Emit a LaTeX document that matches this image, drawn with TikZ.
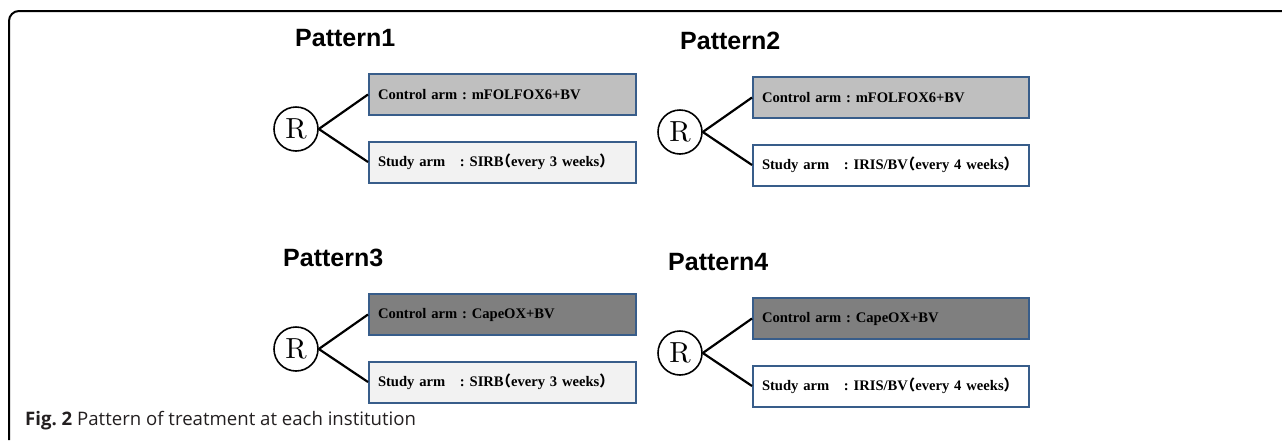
\documentclass[tikz,border=0pt]{standalone}
\usepackage{fontspec}
\setmainfont{Liberation Serif}
\setsansfont{Liberation Sans}
\newfontfamily\capfont{Open Sans}
\newfontfamily\cjk{Noto Sans CJK JP}
\newfontfamily\cjkhalf[RawFeature=+halt]{Noto Sans CJK JP}
\newfontfamily\rfont[Extension=.otf]{lmroman10-regular}
\usepackage{tikz}
\frenchspacing

\definecolor{armline}{RGB}{56,93,138}
\definecolor{ctlA}{RGB}{191,191,191}
\definecolor{ctlB}{RGB}{127,127,127}
\definecolor{stdA}{RGB}{242,242,242}
\definecolor{stdB}{RGB}{255,255,255}
\definecolor{captext}{RGB}{35,31,32}

% study arm regimens
\newcommand{\sirb}{SIRB{\cjkhalf （}every 3 weeks{\cjkhalf ）}}
\newcommand{\iris}{IRIS/BV{\cjkhalf （}every 4 weeks{\cjkhalf ）}}

\begin{document}
\begin{tikzpicture}[x=1pt,y=-1pt,
    rand/.style={draw,circle,line width=1.6,minimum size=44,inner sep=0,
      font=\rfont\fontsize{29}{29}\selectfont},
    armbox/.style={draw=armline,line width=2,minimum height=41,inner xsep=9,
      inner ysep=0,anchor=west,align=left,
      font=\bfseries\fontsize{14.6}{14.6}\selectfont},
    ptitle/.style={anchor=west,inner sep=0,
      font=\sffamily\bfseries\fontsize{25}{25}\selectfont},
    link/.style={line width=2.2}]
  \useasboundingbox (0,0) rectangle (1282,440);
  % frame
  \draw[line width=2,rounded corners=10] (9,440) |- (1282,11);
  % one randomisation per pattern
  \foreach \n/\cx/\cy/\tx/\tw/\cf/\sf/\drug/\study in
      {1/296/129/295/249/ctlA/stdA/mFOLFOX6+BV/\sirb,
       2/680/132/680/258/ctlA/stdB/mFOLFOX6+BV/\iris,
       3/296/349/283/249/ctlB/stdA/CapeOX+BV/\sirb,
       4/680/353/668/258/ctlB/stdB/CapeOX+BV/\iris}{
    \node[ptitle] (t\n) at (\tx,\cy-91) {Pattern\n};
    \node[rand] (r\n) at (\cx,\cy) {R};
    \node[armbox,fill=\cf,text width=\tw pt] (c\n) at (\cx+72,\cy-34.5)
      {\mbox{Control arm : \drug}};
    \node[armbox,fill=\sf,text width=\tw pt] (s\n) at (\cx+72,\cy+33)
      {\mbox{Study arm{\cjk 　}: \study}};
    \draw[link] (r\n.east) -- (c\n.west);
    \draw[link] (r\n.east) -- (s\n.west);
  }
  \node[anchor=base west,inner sep=0,text=captext,
    font=\capfont\fontsize{18.6}{18.6}\selectfont] (cap) at (25,425)
    {\textbf{Fig. 2} Pattern of treatment at each institution};
\end{tikzpicture}
\end{document}
